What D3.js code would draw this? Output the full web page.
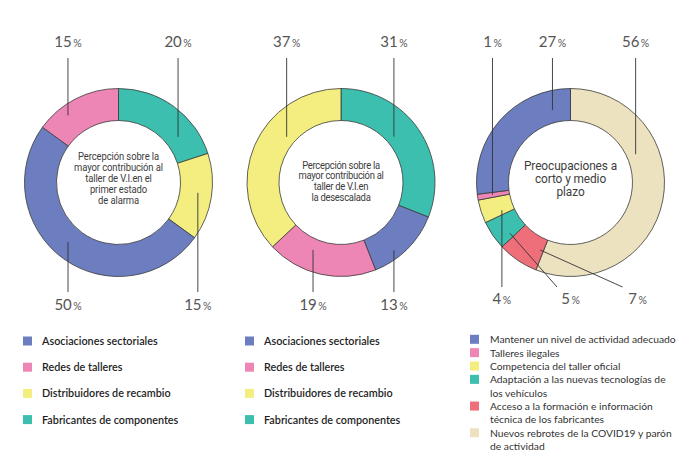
<!DOCTYPE html>
<html><head><meta charset="utf-8">
<script src="https://cdn.jsdelivr.net/npm/d3@7"></script>
<style>
html,body{margin:0;padding:0;background:#fff;}
svg{display:block;}
</style></head>
<body>
<svg id="chart" width="690" height="462"></svg>
<script>
// ---- DATA ----
const categoriesA = ["Asociaciones sectoriales","Redes de talleres","Distribuidores de recambio","Fabricantes de componentes"];
const valuesAlarma = [50, 15, 15, 20];        // primer estado de alarma
const valuesDesescalada = [13, 19, 37, 31];   // desescalada
const categoriesB = ["Mantener un nivel de actividad adecuado","Talleres ilegales","Competencia del taller oficial","Adaptación a las nuevas tecnologías de los vehículos","Acceso a la formación e información técnica de los fabricantes","Nuevos rebrotes de la COVID19 y parón de actividad"];
const valuesPreocupaciones = [27, 1, 4, 5, 7, 56];
// slice order clockwise from 12 o'clock
const orderAlarma = [3, 2, 0, 1];
const orderDesescalada = [3, 0, 1, 2];
const orderPreocupaciones = [5, 4, 3, 2, 1, 0];
const centerTitles = [
  ["Percepción sobre la","mayor contribución al","taller de V.I.en el","primer estado","de alarma"],
  ["Percepción sobre la","mayor contribución al","taller de V.I.en","la desescalada"],
  ["Preocupaciones a","corto y medio","plazo"]
];
const legendB = [["Mantener un nivel de actividad adecuado"],["Talleres ilegales"],["Competencia del taller oficial"],["Adaptación a las nuevas tecnologías de","los vehículos"],["Acceso a la formación e información","técnica de los fabricantes"],["Nuevos rebrotes de la COVID19 y parón","de actividad"]];

// ---- STYLE / LAYOUT ----
const colorsA = ["#6c7ec0","#ee86b5","#f4ee80","#3cbfae"];
const colorsB = ["#6c7ec0","#ee86b5","#f4ee80","#3cbfae","#ee6e79","#ece2bf"];
const outerR = 94, innerR = 62;
const cy = 182.5;
const centersX = [118.5, 341, 570.5];
// label callouts: [slice fraction, radius, side, labelDx(optional), elbow dx]
const calloutsAlarma = {0:[0.524,78,"b"],1:[0.315,84,"t"],2:[0.47,80,"b"],3:[0.73,75,"t"]};
const calloutsDesescalada = {0:[0.65,86,"b"],1:[0.645,73,"b"],2:[0.625,71,"t"],3:[0.44,70,"t"]};
const calloutsPreocupaciones = {0:[0.856,74.6,"t"],1:[0.5,79,"t"],2:[0.22,74,"b"],3:[0.18,79,"b",0,-13.5],4:[0.1,74,"b",67,-15],5:[0.33,71,"t"]};

const svg = d3.select("#chart");
const pie = d3.pie().sort(null).value(d => d.v).padAngle(0);
const arc = d3.arc().innerRadius(innerR).outerRadius(outerR);

function donut(cx, values, colors, order, callouts, title, titleOpt, bottomLine, bottomBase) {
  const data = order.map(i => ({i, v: values[i]}));
  const arcs = pie(data);
  const g = svg.append("g").attr("transform", `translate(${cx},${cy})`);
  g.selectAll("path.slice").data(arcs).join("path")
    .attr("class","slice")
    .attr("d", arc)
    .attr("fill", d => colors[d.data.i])
    .attr("stroke", "#3a3a3a")
    .attr("stroke-width", 0.8);
  // center title
  const t = g.append("text")
    .attr("text-anchor","middle")
    .attr("transform", `scale(${titleOpt.sx},1)`)
    .attr("font-family", titleOpt.family)
    .attr("font-size", titleOpt.size)
    .attr("letter-spacing", titleOpt.ls)
    .attr("fill","#3d3d3d");
  title.forEach((line, k) => {
    t.append("tspan").attr("x",0)
      .attr("y", titleOpt.y0 + k*titleOpt.lh)
      .text(line);
  });
  // callouts
  arcs.forEach(a => {
    const c = callouts[a.data.i];
    if (!c) return;
    const ang = a.startAngle + (a.endAngle - a.startAngle) * c[0];
    const px = Math.sin(ang) * c[1], py = -Math.cos(ang) * c[1];
    let lx = px, ex = px, ey;
    if (c[2] === "t") ey = 58 - cy; else ey = bottomLine - cy;
    if (c[3] !== undefined) { lx = c[3]; ex = c[3] + c[4]; }
    g.append("line").attr("x1",px).attr("y1",py).attr("x2",ex).attr("y2",ey)
      .attr("stroke","#333").attr("stroke-width",0.9);
    const ty = c[2] === "t" ? 47 - cy : bottomBase - cy;
    const tx = g.append("text").attr("x", lx).attr("y", ty)
      .attr("text-anchor","middle").attr("fill","#555")
      .attr("font-family","Lato, 'Open Sans', sans-serif");
    tx.append("tspan").attr("font-size",15).text(a.data.v);
    tx.append("tspan").attr("font-size",10.5).attr("dx",1.5).text("%");
  });
}

const titleFont = "Roboto, 'Open Sans', sans-serif";
donut(centersX[0], valuesAlarma, colorsA, orderAlarma, calloutsAlarma, centerTitles[0],
  {family: titleFont, size: 10.5, lh: 10.9, y0: -22.5, ls: -0.1, sx: 0.9}, 292, 310);
donut(centersX[1], valuesDesescalada, colorsA, orderDesescalada, calloutsDesescalada, centerTitles[1],
  {family: titleFont, size: 10.5, lh: 10.9, y0: -14, ls: -0.3, sx: 0.9}, 292, 310);
donut(centersX[2], valuesPreocupaciones, colorsB, orderPreocupaciones, calloutsPreocupaciones, centerTitles[2],
  {family: titleFont, size: 12.5, lh: 13.4, y0: -13, ls: -0.1, sx: 0.95}, 287, 304);

// ---- LEGENDS ----
function legendA(x0) {
  const g = svg.append("g");
  categoriesA.forEach((c, i) => {
    const y = 341 + i * 26.2;
    g.append("rect").attr("x", x0).attr("y", y - 4.5).attr("width", 9).attr("height", 9)
      .attr("fill", colorsA[i]);
    g.append("text").attr("x", x0 + 19).attr("y", y + 4)
      .attr("font-family","Lato, sans-serif").attr("font-size",10.8).attr("font-weight",600)
      .attr("fill","#1e1e1e").text(c);
  });
}
legendA(23);
legendA(245);

const gB = svg.append("g");
let row = 0;
legendB.forEach((lines, i) => {
  const y = 339.3 + row * 13.35;
  gB.append("rect").attr("x", 470).attr("y", y - 4.5).attr("width", 9).attr("height", 9)
    .attr("fill", colorsB[i]);
  lines.forEach((ln, k) => {
    gB.append("text").attr("x", 490).attr("y", y + 4 + k * 13.35)
      .attr("font-family","Lato, sans-serif").attr("font-size",10.3)
      .attr("fill","#333").text(ln);
  });
  row += lines.length;
});
</script>
</body></html>
